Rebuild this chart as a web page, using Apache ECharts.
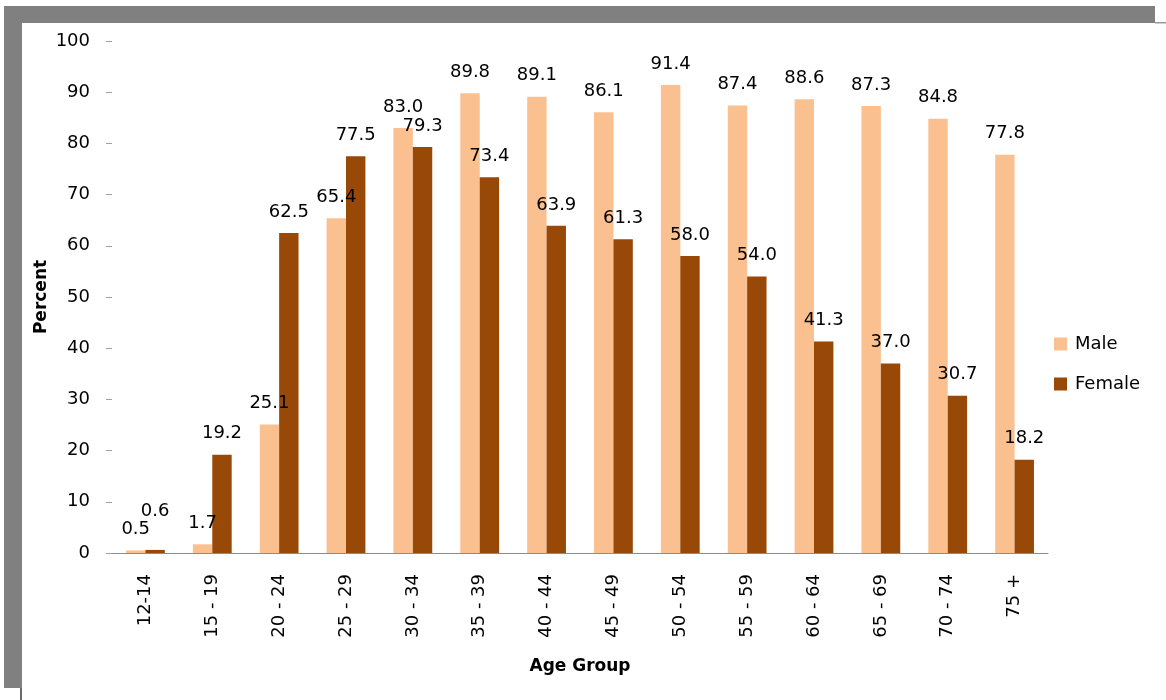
<!DOCTYPE html>
<html>
<head>
<meta charset="utf-8">
<title>Age Group</title>
<script src="https://cdn.jsdelivr.net/npm/echarts@6/dist/echarts.min.js"></script>
<style>
    html, body { margin: 0; padding: 0; background: #fff; }
    #chart { width: 1166px; height: 700px; }
</style>
</head>
<body>
<div id="chart"></div>
<script>
// 年龄组
var ageGroups = ['12-14', '15 - 19', '20 - 24', '25 - 29', '30 - 34', '35 - 39', '40 - 44',
    '45 - 49', '50 - 54', '55 - 59', '60 - 64', '65 - 69', '70 - 74', '75 +'];
var maleValues = [0.5, 1.7, 25.1, 65.4, 83.0, 89.8, 89.1, 86.1, 91.4, 87.4, 88.6, 87.3, 84.8, 77.8];
var femaleValues = [0.6, 19.2, 62.5, 77.5, 79.3, 73.4, 63.9, 61.3, 58.0, 54.0, 41.3, 37.0, 30.7, 18.2];
var yTicks = [0, 10, 20, 30, 40, 50, 60, 70, 80, 90, 100];

var maleColor = '#FAC090';
var femaleColor = '#984807';
var frameColor = '#808080';
var font = 'DejaVu Sans';

/**
 * 柱子数据 - 带标签的偏移(0.6 那个标签在原图里被挪上去了)
 */
function buildBarData(values, raised) {
    var out = [];
    for (var i = 0; i < values.length; i++) {
        var item = { value: values[i] };
        if (raised[i]) {
            item.label = { offset: [0, -raised[i]] };
        }
        out.push(item);
    }
    return out;
}

function drawChart() {
    var myChart = echarts.init(document.getElementById('chart'));
    var labelStyle = {
        show: true,
        position: 'top',
        distance: 12,
        color: '#000',
        fontFamily: font,
        fontSize: 18,
        formatter: function(p) {
            return p.value.toFixed(1);
        }
    };
    var option = {
        backgroundColor: '#fff',
        animation: false,
        grid: {
            left: 112,
            right: 118,
            top: 41,
            bottom: 147
        },
        legend: {
            orient: 'vertical',
            left: 1054,
            top: 335,
            padding: 0,
            itemWidth: 13,
            itemHeight: 13,
            itemGap: 22,
            icon: 'rect',
            textStyle: {
                fontFamily: font,
                fontSize: 18,
                color: '#000',
                padding: [0, 0, 0, 3]
            },
            data: ['Male', 'Female']
        },
        xAxis: {
            type: 'category',
            data: ageGroups,
            name: 'Age Group',
            nameLocation: 'middle',
            nameGap: 105,
            nameTextStyle: {
                fontFamily: font,
                fontWeight: 'bold',
                fontSize: 17,
                color: '#000'
            },
            axisLine: {
                lineStyle: { color: '#8c8c8c', width: 1 }
            },
            axisTick: {
                length: 8,
                lineStyle: { color: '#8c8c8c' }
            },
            axisLabel: {
                rotate: 90,
                margin: 21,
                interval: 0,
                fontFamily: font,
                fontSize: 18,
                color: '#000'
            }
        },
        yAxis: {
            type: 'value',
            min: yTicks[0],
            max: yTicks[yTicks.length - 1],
            interval: yTicks[1] - yTicks[0],
            name: 'Percent',
            nameLocation: 'middle',
            nameRotate: 90,
            nameGap: 62,
            nameMoveOverlap: false,
            nameTextStyle: {
                fontFamily: font,
                fontWeight: 'bold',
                fontSize: 17,
                color: '#000'
            },
            axisLine: { show: false },
            axisTick: {
                show: true,
                length: 6,
                lineStyle: { color: '#a0a0a0' }
            },
            splitLine: { show: false },
            axisLabel: {
                margin: 22,
                fontFamily: font,
                fontSize: 18,
                color: '#000'
            }
        },
        series: [{
            name: 'Male',
            type: 'bar',
            barGap: '0%',
            barCategoryGap: '42%',
            itemStyle: { color: maleColor },
            label: labelStyle,
            data: buildBarData(maleValues, {})
        }, {
            name: 'Female',
            type: 'bar',
            barGap: '0%',
            barCategoryGap: '42%',
            itemStyle: { color: femaleColor },
            label: labelStyle,
            data: buildBarData(femaleValues, { 0: 18 })
        }],
        // 外框阴影
        graphic: [
            { type: 'rect', shape: { x: 4, y: 6, width: 1151, height: 17 }, style: { fill: frameColor }, silent: true },
            { type: 'rect', shape: { x: 4, y: 6, width: 18, height: 682 }, style: { fill: frameColor }, silent: true },
            { type: 'rect', shape: { x: 1155, y: 22, width: 11, height: 1.5 }, style: { fill: '#9a9a9a' }, silent: true },
            { type: 'rect', shape: { x: 20, y: 688, width: 2, height: 12 }, style: { fill: '#6a6a6a' }, silent: true }
        ]
    };
    myChart.setOption(option);
}

drawChart();
</script>
</body>
</html>
